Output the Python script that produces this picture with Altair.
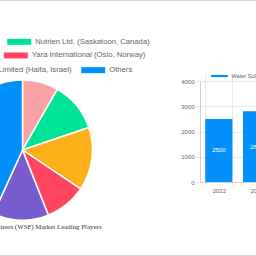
import altair as alt
import pandas as pd

# ---- data ----
companies = [
    "EuroChem",
    "Nutrien Ltd. (Saskatoon, Canada)",
    "SQM S.A.",
    "Yara International (Oslo, Norway)",
    "ICL Group Limited (Haifa, Israel)",
    "Others",
]
shares = [8.3, 11.5, 14.6, 9.6, 12.8, 43.2]
pie_colors = ["#f9a3a4", "#00e396", "#feb019", "#ff4560", "#775dd0", "#008ffb"]

years = ["2022", "2023"]
market_size = [2500, 2800]
series_name = "Water Soluble Fertilizers (WSF) Market Size"
y_ticks = [0, 500, 1000, 1500, 2000, 2500, 3000, 3500, 4000]

pie_title = "Water Soluble Fertilizers (WSF) Market Leading Players"

pie_df = pd.DataFrame({"company": companies, "share": shares, "idx": list(range(len(companies)))})
bar_df = pd.DataFrame({"year": years, "size": market_size, "series": [series_name] * len(years)})
frame_df = pd.DataFrame({"k": [0]})

SANS = "Liberation Sans"
GRID = "#e8e8e8"
LABEL = "#666666"

# ---- frame lines (page borders) ----
top_line = alt.Chart(frame_df).mark_rule(color="#d9d9d9", strokeWidth=1).encode(
    x=alt.value(0), x2=alt.value(256), y=alt.value(0.5)
)
bottom_line = alt.Chart(frame_df).mark_rule(color="#d9d9d9", strokeWidth=1).encode(
    x=alt.value(0), x2=alt.value(256), y=alt.value(255.5)
)

# ---- pie (split into three layers so each legend row is its own legend) ----
total = sum(shares)
theta_scale = alt.Scale(domain=[0, total], range=[0, 6.283185307179586])


def pie_part(rows, lx, ly):
    names = [companies[i] for i in rows]
    cols = [pie_colors[i] for i in rows]
    return (
        alt.Chart(pie_df)
        .transform_window(cum="sum(share)", sort=[alt.SortField("idx")], frame=[None, 0])
        .transform_calculate(start="datum.cum - datum.share")
        .transform_filter(alt.FieldOneOfPredicate(field="company", oneOf=names))
        .mark_arc(radius=70, stroke="white", strokeWidth=1.5)
        .encode(
            theta=alt.Theta("start:Q", scale=theta_scale, stack=False),
            theta2="cum:Q",
            color=alt.Color(
                "company:N",
                scale=alt.Scale(domain=names, range=cols),
                legend=alt.Legend(
                    title=None,
                    orient="none",
                    legendX=lx,
                    legendY=ly,
                    direction="horizontal",
                    symbolType="M-1,-0.25H1V0.25H-1Z",
                    symbolSize=576,
                    symbolStrokeWidth=0,
                    symbolOpacity=1,
                    labelFont=SANS,
                    labelFontSize=7.7,
                    labelColor=LABEL,
                    labelOffset=4,
                    labelLimit=400,
                    columnPadding=9,
                ),
            ),
            x=alt.value(22.5),
            y=alt.value(150),
        )
    )


pie_row1 = pie_part([0, 1], -66.8, 29.7)
pie_row2 = pie_part([2, 3], -68.2, 43.3)
pie_row3 = pie_part([4, 5], -66.8, 58.0)

# ---- bar chart ----
xscale = alt.Scale(domain=years, range=[200, 275.4], paddingInner=0.28, paddingOuter=0.14)
yscale = alt.Scale(domain=[0, 4000], range=[182, 81], nice=False)

bars = alt.Chart(bar_df).mark_bar().encode(
    x=alt.X(
        "year:N",
        scale=xscale,
        axis=alt.Axis(
            title=None,
            offset=-74,
            tickBand="extent",
            grid=True,
            gridColor=GRID,
            domainColor="#d0d0d0",
            tickColor=GRID,
            tickSize=4,
            labelAngle=0,
            labelFont=SANS,
            labelFontSize=6,
            labelColor=LABEL,
            labelPadding=1,
        ),
    ),
    y=alt.Y(
        "size:Q",
        scale=yscale,
        axis=alt.Axis(
            title=None,
            offset=-200,
            values=y_ticks,
            format="d",
            grid=True,
            gridColor=GRID,
            domainColor="#d0d0d0",
            tickColor=GRID,
            tickSize=4,
            labelFont=SANS,
            labelFontSize=6,
            labelColor=LABEL,
            labelPadding=2,
        ),
    ),
    color=alt.Color(
        "series:N",
        scale=alt.Scale(domain=[series_name], range=["#008ffb"]),
        legend=alt.Legend(
            title=None,
            orient="none",
            legendX=211,
            legendY=67.5,
            symbolType="M-1,-0.13H1V0.13H-1Z",
            symbolSize=279,
            symbolStrokeWidth=0,
            symbolOpacity=1,
            labelFont=SANS,
            labelFontSize=5.6,
            labelColor=LABEL,
            labelOffset=3.5,
            labelLimit=400,
        ),
    ),
)

bar_labels = alt.Chart(bar_df).transform_calculate(mid="datum.size / 2").mark_text(
    color="white", font=SANS, fontSize=6, baseline="middle"
).encode(
    x=alt.X("year:N", scale=xscale),
    y=alt.Y("mid:Q", scale=yscale),
    text=alt.Text("size:Q"),
)

chart = alt.layer(
    top_line, bottom_line, pie_row1, pie_row2, pie_row3, bars, bar_labels
).resolve_scale(
    color="independent"
).resolve_legend(color="independent").properties(
    width=256,
    height=256,
    autosize=alt.AutoSizeParams(type="none"),
    padding=0,
    title=alt.TitleParams(
        text=pie_title,
        orient="bottom",
        anchor="start",
        frame="group",
        align="center",
        baseline="middle",
        dx=23,
        dy=-29,
        offset=0,
        font="Liberation Serif",
        fontSize=6.9,
        fontWeight="normal",
        color="#333333",
    ),
).configure_view(stroke=None)

chart.save("out.html", embed_options={"renderer": "svg", "actions": False})
